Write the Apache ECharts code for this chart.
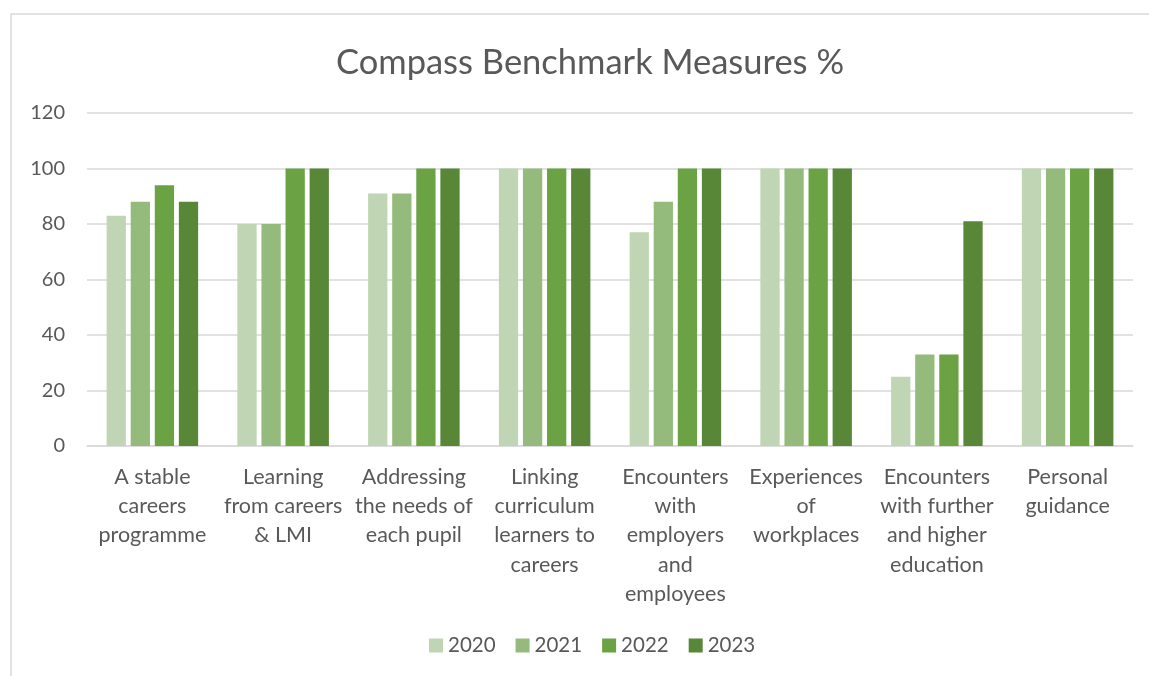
<!DOCTYPE html>
<html>
<head>
<meta charset="utf-8">
<script src="https://cdn.jsdelivr.net/npm/echarts@6/dist/echarts.min.js"></script>
<style>
  html, body { margin: 0; padding: 0; background: #fff; }
  #main { width: 1149px; height: 676px; }
</style>
</head>
<body>
<div id="main"></div>
<script>
var categories = [
    'A stable\ncareers\nprogramme',
    'Learning\nfrom careers\n& LMI',
    'Addressing\nthe needs of\neach pupil',
    'Linking\ncurriculum\nlearners to\ncareers',
    'Encounters\nwith\nemployers\nand\nemployees',
    'Experiences\nof\nworkplaces',
    'Encounters\nwith further\nand higher\neducation',
    'Personal\nguidance'
];
var years = ['2020', '2021', '2022', '2023'];
var values2020 = [83, 80, 91, 100, 77, 100, 25, 100];
var values2021 = [88, 80, 91, 100, 88, 100, 33, 100];
var values2022 = [94, 100, 100, 100, 100, 100, 33, 100];
var values2023 = [88, 100, 100, 100, 100, 100, 81, 100];
var colors = ['#BFD5B3', '#94BB7B', '#6BA244', '#578737'];

var allValues = [values2020, values2021, values2022, values2023];
var font = 'Lato, "Open Sans", sans-serif';

option = {
    color: colors,
    title: {
        text: 'Compass Benchmark Measures %',
        left: 331,
        top: 40,
        textStyle: { fontFamily: font, fontSize: 34.5, fontWeight: 'normal', color: '#595959' }
    },
    legend: {
        bottom: 15,
        left: 424,
        itemWidth: 14,
        itemHeight: 14,
        itemGap: 20,
        icon: 'rect',
        textStyle: { fontFamily: font, fontSize: 20.5, color: '#595959' },
        data: years
    },
    grid: { left: 87, right: 16, top: 113, bottom: 230 },
    xAxis: {
        type: 'category',
        data: categories,
        axisTick: { show: false },
        axisLine: { lineStyle: { color: '#D9D9D9', width: 1.5 } },
        axisLabel: {
            interval: 0,
            margin: 16,
            lineHeight: 29.4,
            fontFamily: font,
            fontSize: 21.5,
            color: '#595959'
        }
    },
    yAxis: {
        type: 'value',
        min: 0,
        max: 120,
        interval: 20,
        axisLabel: { fontFamily: font, fontSize: 20, color: '#595959', margin: 22 },
        splitLine: { lineStyle: { color: '#D9D9D9', width: 1.5 } }
    },
    graphic: [{
        type: 'rect',
        shape: { x: 11, y: 14, width: 1300, height: 800 },
        style: { fill: 'none', stroke: '#D9D9D9', lineWidth: 1.5 },
        silent: true
    }],
    series: years.map(function (y, i) {
        return {
            name: y,
            type: 'bar',
            data: allValues[i],
            barGap: '25%',
            barCategoryGap: '30%'
        };
    })
};

var chartDom = document.getElementById('main');
var myChart = echarts.init(chartDom);
myChart.setOption(option);
</script>
</body>
</html>
